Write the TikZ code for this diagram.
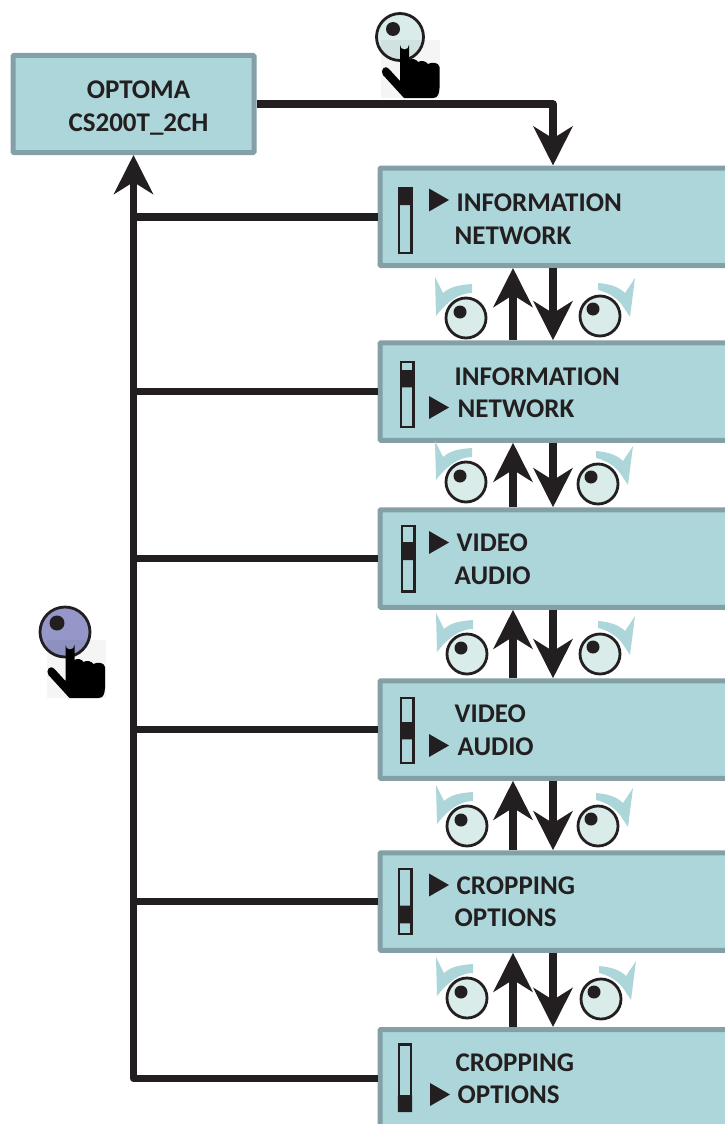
\documentclass[tikz,border=0pt]{standalone}
\usepackage{fontspec}
\setmainfont{Carlito}
\usetikzlibrary{arrows.meta}
\definecolor{panelfill}{HTML}{ACD6DA}
\definecolor{paneledge}{HTML}{82A0A5}
\definecolor{knobfill}{HTML}{D9ECEA}
\definecolor{pressfill}{HTML}{9497C8}
\definecolor{inkblack}{HTML}{231F20}
\tikzset{
	panel/.style={draw=paneledge, fill=panelfill, line width=5pt, rounded corners=1pt, inner sep=0pt},
	menubox/.style={panel, minimum width=420pt, minimum height=97.5pt},
	menutext/.style={anchor=base west, inner sep=0pt, text=inkblack, font=\fontsize{27}{33}\selectfont\bfseries},
	flowline/.style={draw=inkblack, line width=7.5pt, line join=round},
	flowarrow/.style={flowline, -{Stealth[length=39pt, width=39pt, inset=12pt]}},
}
\def\pointer(#1,#2){\fill[inkblack] (#1, #2) -- (#1+20, #2+11.5) -- (#1, #2+23) -- cycle;}
\def\slider(#1,#2:#3:#4){
	\draw[inkblack, line width=2.2pt, fill=panelfill] (#1, #2) rectangle (#1+12.4, #2+65.5);
	\fill[inkblack, rounded corners=0.5pt] (#1-1, #3) rectangle (#1+13.4, #4);
}
\def\leftknob(#1,#2){
	\fill[panelfill] (#1-31, #2-41) -- (#1-23, #2-25) .. controls (#1-15, #2-32) and (#1-6, #2-33) .. (#1+6, #2-34) -- (#1+6, #2-25) .. controls (#1-8, #2-25) and (#1-20, #2-15) .. (#1-30, #2-2) -- cycle;
	\draw[inkblack, line width=2.8pt, fill=knobfill] (#1, #2) circle (20);
	\fill[inkblack] (#1-6, #2-6) circle (6.5);
}
\def\rightknob(#1,#2){
	\fill[panelfill] (#1-2, #2-33) .. controls (#1+10, #2-32) and (#1+19, #2-29) .. (#1+25, #2-23) -- (#1+35, #2-38) -- (#1+30, #2+1) -- (#1+22, #2-11) .. controls (#1+16, #2-19) and (#1+7, #2-24) .. (#1-2, #2-26) -- cycle;
	\draw[inkblack, line width=2.8pt, fill=knobfill] (#1, #2) circle (20);
	\fill[inkblack] (#1-7, #2-7) circle (6.5);
}
\def\pushhand(#1,#2){
	\begin{scope}[shift={(#1, #2)}]
		\fill[black, opacity=0.04] (0, 0) rectangle (59, 58);
		\fill[black] (19, 5) arc (180:0:4.5) -- (28, 20) .. controls (31, 18) and (35, 19) .. (37, 22) .. controls (40, 20) and (45, 21) .. (47, 24) .. controls (50, 22) and (58, 22) .. (58.5, 27) -- (58.5, 48) .. controls (58, 54) and (57, 58) .. (52, 58) -- (23, 58) -- (2, 35) .. controls (-1, 31) and (3, 24) .. (8, 29) -- (19, 41) -- cycle;
	\end{scope}
}

\begin{document}
\begin{tikzpicture}[x=1pt, y=-1pt]
		%%%%% START %%%%%
		\useasboundingbox (0, 0) rectangle (725, 1124);
		\clip (0, 0) rectangle (725, 1124);
		
		\coordinate (upline) at (513, 0);
		\coordinate (downline) at (553, 0);
		
		\node[panel, minimum width=241pt, minimum height=97pt] (optoma) at (133.5, 104) {};
		\node[menubox] (infosel) at (590, 216.75) {};
		\node[menubox] (netsel) at (590, 391.5) {};
		\node[menubox] (videosel) at (590, 558.5) {};
		\node[menubox] (audiosel) at (590, 729.5) {};
		\node[menubox] (cropsel) at (590, 901.5) {};
		\node[menubox] (optsel) at (590, 1078.25) {};
		
		\node[menutext, align=center, anchor=center] (optomatext) at (138.5, 108) {OPTOMA\\CS200T\_2CH};
		
		\node[menutext] (infotexta) at (456.5, 211) {INFORMATION};
		\node[menutext] (nettexta) at (454.5, 244) {NETWORK};
		\node[menutext] (infotextb) at (454.5, 385) {INFORMATION};
		\node[menutext] (nettextb) at (457.5, 417) {NETWORK};
		\node[menutext] (videotexta) at (456.5, 551) {VIDEO};
		\node[menutext] (audiotexta) at (454.5, 584) {AUDIO};
		\node[menutext] (videotextb) at (454.5, 722) {VIDEO};
		\node[menutext] (audiotextb) at (457.5, 755) {AUDIO};
		\node[menutext] (croptexta) at (456.5, 894) {CROPPING};
		\node[menutext] (opttexta) at (454.5, 926) {OPTIONS};
		\node[menutext] (croptextb) at (455.5, 1071) {CROPPING};
		\node[menutext] (opttextb) at (457.5, 1103) {OPTIONS};
		
		\pointer(429, 188.5)
		\pointer(429, 396)
		\pointer(429, 531)
		\pointer(429, 734)
		\pointer(429, 873.5)
		\pointer(430, 1083)
		
		\slider(399, 187.7:187:205)
		\slider(401, 361.7:370:387.3)
		\slider(402, 526:542:560)
		\slider(401, 697.7:722:739.3)
		\slider(399, 868.7:905.7:923.3)
		\slider(398.8, 1044.5:1095:1112)
		
		\draw[flowarrow] (optoma.east) -| (infosel.north -| downline);
		\draw[flowarrow] (optsel.west) -| (optoma.south);
		\draw[flowline] (infosel.west) -- (infosel.west -| optoma.south);
		\draw[flowline] (netsel.west) -- (netsel.west -| optoma.south);
		\draw[flowline] (videosel.west) -- (videosel.west -| optoma.south);
		\draw[flowline] (audiosel.west) -- (audiosel.west -| optoma.south);
		\draw[flowline] (cropsel.west) -- (cropsel.west -| optoma.south);
		
		\draw[flowarrow] (infosel.south -| downline) -- (netsel.north -| downline);
		\draw[flowarrow] (netsel.north -| upline) -- (infosel.south -| upline);
		\draw[flowarrow] (netsel.south -| downline) -- (videosel.north -| downline);
		\draw[flowarrow] (videosel.north -| upline) -- (netsel.south -| upline);
		\draw[flowarrow] (videosel.south -| downline) -- (audiosel.north -| downline);
		\draw[flowarrow] (audiosel.north -| upline) -- (videosel.south -| upline);
		\draw[flowarrow] (audiosel.south -| downline) -- (cropsel.north -| downline);
		\draw[flowarrow] (cropsel.north -| upline) -- (audiosel.south -| upline);
		\draw[flowarrow] (cropsel.south -| downline) -- (optsel.north -| downline);
		\draw[flowarrow] (optsel.north -| upline) -- (cropsel.south -| upline);
		
		\leftknob(466, 318)
		\rightknob(600, 316)
		\leftknob(466, 482)
		\rightknob(598, 484)
		\leftknob(467, 654)
		\rightknob(600, 654)
		\leftknob(467, 826)
		\rightknob(598, 826)
		\leftknob(467, 998)
		\rightknob(601, 999)
		
		\draw[inkblack, line width=2.8pt, fill=knobfill] (400, 37) circle (23.5);
		\fill[inkblack] (393, 29) circle (7);
		\pushhand(381, 40)
		
		\draw[inkblack, line width=2.8pt, fill=pressfill] (65, 632) circle (25);
		\fill[inkblack] (57, 623) circle (7.5);
		\pushhand(46.5, 640)
		%%%%% END %%%%%
	\end{tikzpicture}
\end{document}
